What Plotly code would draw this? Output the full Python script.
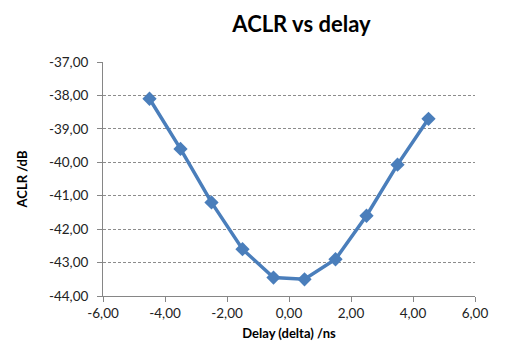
import plotly.graph_objects as go

delay = [-4.5, -3.5, -2.5, -1.5, -0.5, 0.5, 1.5, 2.5, 3.5, 4.5]
aclr = [-38.1, -39.6, -41.2, -42.6, -43.45, -43.5, -42.9, -41.6, -40.07, -38.7]

x_ticks = [-6, -4, -2, 0, 2, 4, 6]
x_labels = ["-6,00", "-4,00", "-2,00", "0,00", "2,00", "4,00", "6,00"]
y_ticks = [-37, -38, -39, -40, -41, -42, -43, -44]
y_labels = ["-37,00", "-38,00", "-39,00", "-40,00", "-41,00", "-42,00", "-43,00", "-44,00"]

font = "Lato, 'Open Sans', sans-serif"

fig = go.Figure(go.Scatter(
    x=delay, y=aclr, mode="lines+markers",
    line=dict(color="#4a7ebb", width=3.5),
    marker=dict(symbol="diamond", size=11, color="#4a7ebb"),
))

fig.update_layout(
    width=506, height=357,
    paper_bgcolor="white", plot_bgcolor="white",
    margin=dict(l=95, r=39, t=54, b=69),
    showlegend=False,
    title=dict(text="<b>ACLR vs delay</b>", x=0.58, xanchor="center", y=0.975, yanchor="top",
               font=dict(family=font, size=22, color="#000000")),
    font=dict(family=font, color="#000000"),
)
fig.update_xaxes(
    range=[-6, 6], tickvals=x_ticks, ticktext=x_labels,
    showgrid=False, zeroline=False,
    showline=True, linecolor="#868686", linewidth=1,
    ticks="outside", ticklen=5, tickcolor="#868686",
    tickfont=dict(size=13.5, color="#222222"),
    title=dict(text="<b>Delay (delta) /ns</b>", font=dict(size=13), standoff=8),
)
fig.update_yaxes(
    range=[-44, -37], tickvals=y_ticks, ticktext=y_labels,
    showgrid=True, gridcolor="#8c8c8c", griddash="3px,2px", gridwidth=1,
    zeroline=False,
    showline=True, linecolor="#868686", linewidth=1,
    ticks="outside", ticklen=5, tickcolor="#868686",
    ticklabelstandoff=6,
    tickfont=dict(size=13.5, color="#222222"),
    title=dict(text="<b>ACLR /dB</b>", font=dict(size=13), standoff=18),
)

fig.write_html("out.html")
